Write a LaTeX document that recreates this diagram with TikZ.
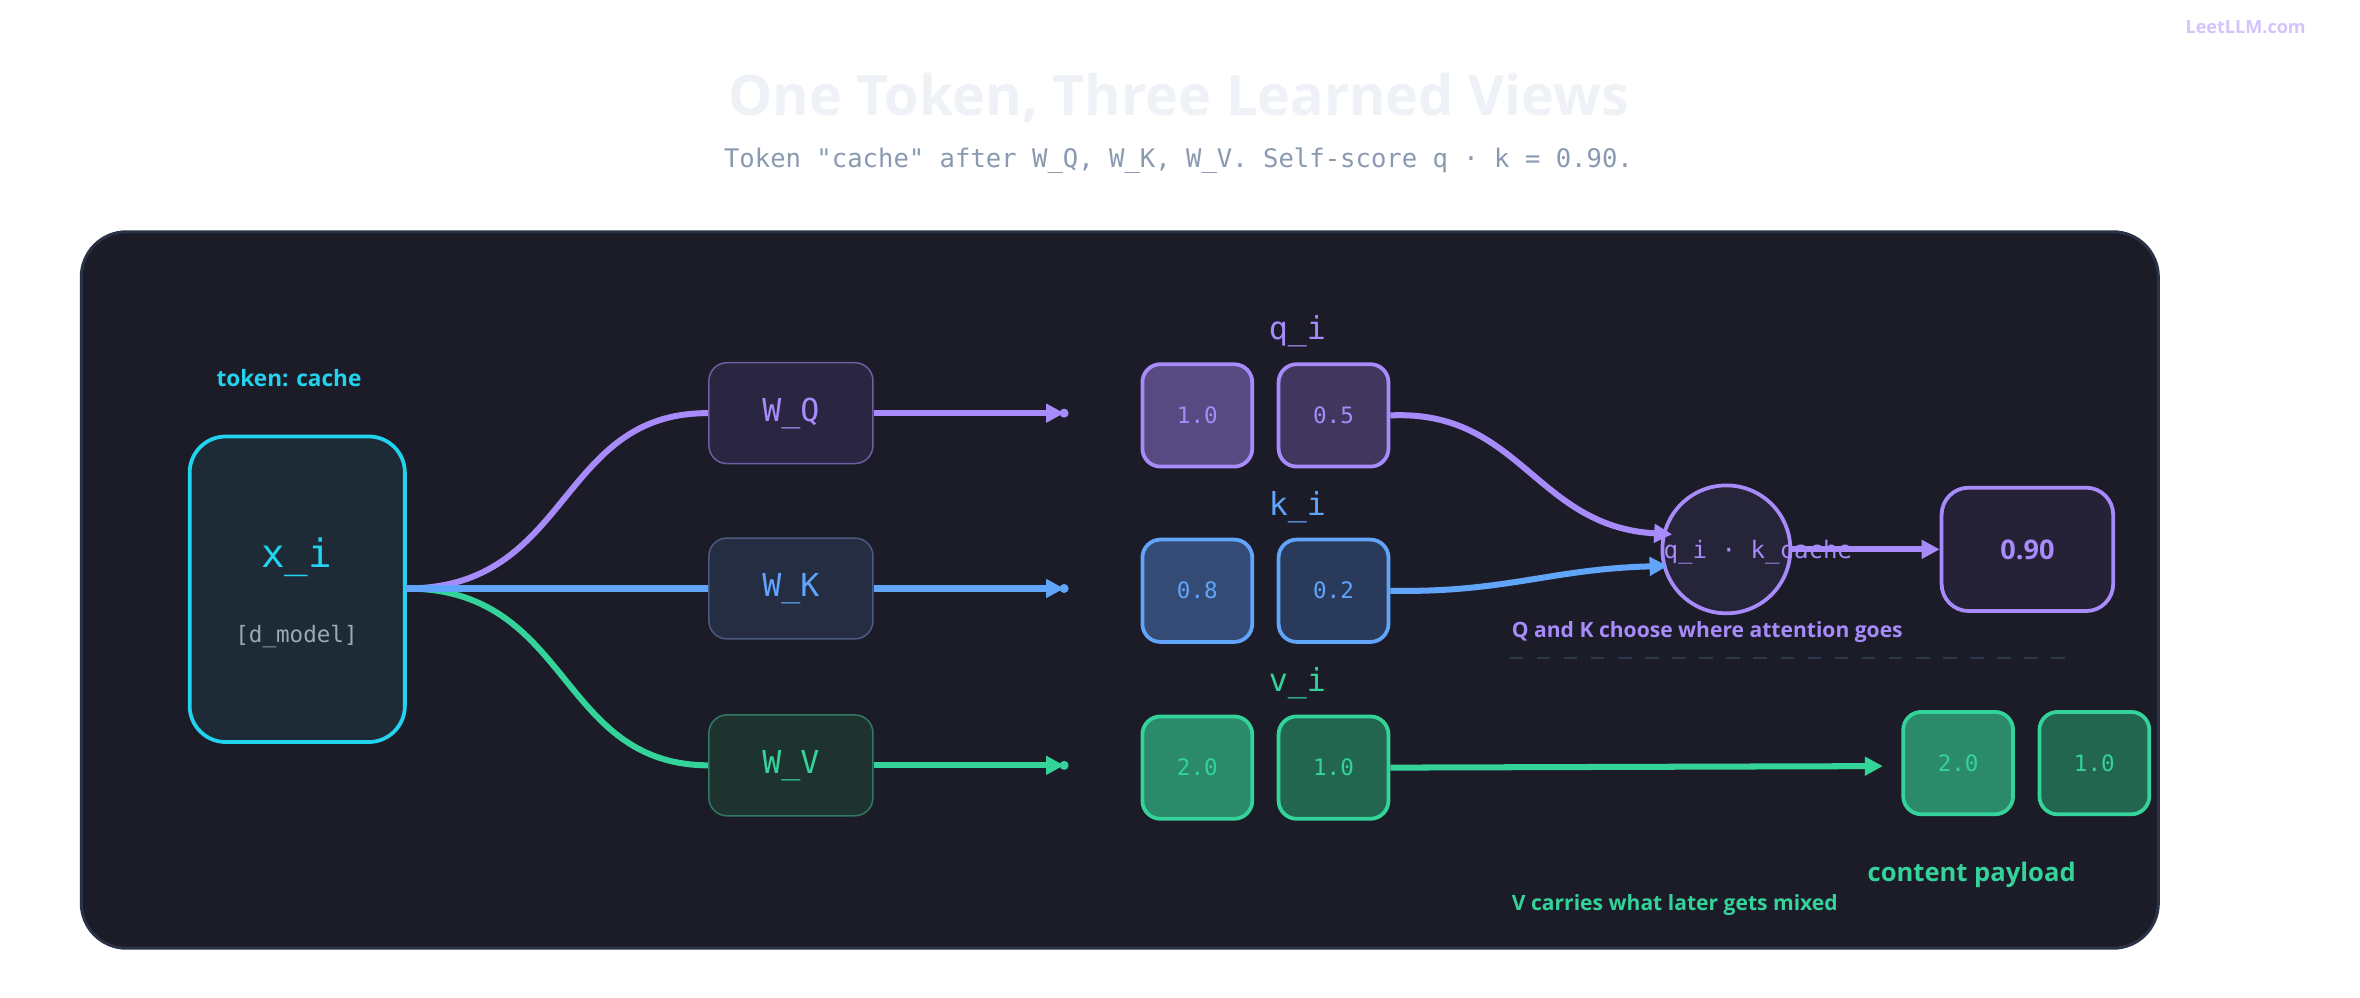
\documentclass[tikz,border=0pt]{standalone}
\usepackage{fontspec}
\setmainfont{Open Sans}
\setmonofont{DejaVu Sans Mono}
\usetikzlibrary{arrows.meta}
\definecolor{pur}{HTML}{A78BFA}
\definecolor{blu}{HTML}{60A5FA}
\definecolor{grn}{HTML}{34D399}
\definecolor{cyn}{HTML}{22D3EE}
\definecolor{panel}{HTML}{1C1C28}
\definecolor{panelb}{HTML}{2A3345}
\definecolor{ttl}{HTML}{EEF2F7}
\definecolor{subc}{HTML}{8A9AB0}
\definecolor{xfill}{HTML}{1E2A35}
\definecolor{xgrey}{HTML}{9AA8B8}
\definecolor{wqd}{HTML}{6B5FA0}\definecolor{wqf}{HTML}{2A2540}
\definecolor{wkd}{HTML}{4A5A80}\definecolor{wkf}{HTML}{252D42}
\definecolor{wvd}{HTML}{2E7A60}\definecolor{wvf}{HTML}{1E3330}
\definecolor{qa}{HTML}{574A82}\definecolor{qb}{HTML}{40365E}
\definecolor{ka}{HTML}{344C75}\definecolor{kb}{HTML}{2A3A5A}
\definecolor{va}{HTML}{2A8A6A}\definecolor{vb}{HTML}{226650}
\definecolor{dotf}{HTML}{262438}\definecolor{resf}{HTML}{252238}
\definecolor{dashc}{HTML}{2A3A4A}
\tikzset{
  pad/.style={rounded corners=12pt,line width=1pt,minimum width=109pt,minimum height=67pt,font=\ttfamily\fontsize{21}{21}\selectfont},
  vec/.style={rounded corners=12pt,line width=2.5pt,minimum width=73pt,minimum height=68pt,font=\ttfamily\fontsize{15}{15}\selectfont},
  wire/.style={line width=4pt,-{Triangle[length=12pt,width=12pt]}},
  lbl/.style={font=\ttfamily\fontsize{21}{21}\selectfont},
  note/.style={font=\bfseries\fontsize{14}{14}\selectfont,anchor=west},
}
\begin{document}
\begin{tikzpicture}[x=1pt,y=-1pt]
\useasboundingbox[fill=white] (0,0) rectangle (1568,663);
\node[font=\fontsize{12}{12}\selectfont\bfseries,text=pur!50] (wm) at (1492,18) {LeetLLM.com};
\node[font=\bfseries\fontsize{37}{37}\selectfont,text=ttl] (title) at (783,65) {One Token, Three Learned Views};
\node[font=\ttfamily\fontsize{17}{17}\selectfont,text=subc] (sub) at (783,107) {Token "cache" after W\_Q, W\_K, W\_V. Self-score q · k = 0.90.};
\draw[fill=panel,draw=panelb,line width=2pt,rounded corners=30pt] (54,154) rectangle (1434,630);

\node[font=\bfseries\fontsize{15}{15}\selectfont,text=cyn] (tok) at (192,251) {token: cache};
\node[draw=cyn,fill=xfill,line width=2.5pt,rounded corners=24pt,minimum width=143pt,minimum height=203pt] (x) at (197.5,391.5) {};
\node[font=\ttfamily\fontsize{26}{26}\selectfont,text=cyn] (xt) at (197,370) {x\_i};
\node[font=\ttfamily\fontsize{15}{15}\selectfont,text=xgrey] (xd) at (197,423) {[d\_model]};

\node[pad,draw=wqd,fill=wqf,text=pur] (wq) at (525.5,274.5) {W\_Q};
\node[pad,draw=wkd,fill=wkf,text=blu] (wk) at (525.5,391) {W\_K};
\node[pad,draw=wvd,fill=wvf,text=grn] (wv) at (525.5,508.5) {W\_V};

\coordinate (xo) at (270,391);
\draw[line width=4pt,pur] (xo) .. controls (380,391) and (370,274) .. (wq.west);
\draw[line width=4pt,grn] (xo) .. controls (380,391) and (370,508) .. (wv.west);
\draw[line width=4pt,blu] (xo) -- (wk.west);

\coordinate (eq) at (707,274.5);
\coordinate (ek) at (707,391);
\coordinate (ev) at (707,508.5);
\draw[wire,pur] (wq.east) -- (eq); \fill[pur] (eq) circle (3pt);
\draw[wire,blu] (wk.east) -- (ek); \fill[blu] (ek) circle (3pt);
\draw[wire,grn] (wv.east) -- (ev); \fill[grn] (ev) circle (3pt);

\node[lbl,text=pur] (ql) at (862,220) {q\_i};
\node[lbl,text=blu] (kl) at (862,337) {k\_i};
\node[lbl,text=grn] (vl) at (862,454) {v\_i};
\node[vec,draw=pur,fill=qa,text=pur] (q1) at (795.5,276) {1.0};
\node[vec,draw=pur,fill=qb,text=pur] (q2) at (886,276) {0.5};
\node[vec,draw=blu,fill=ka,text=blu] (k1) at (795.5,392.5) {0.8};
\node[vec,draw=blu,fill=kb,text=blu] (k2) at (886,392.5) {0.2};
\node[vec,draw=grn,fill=va,text=grn] (v1) at (795.5,510) {2.0};
\node[vec,draw=grn,fill=vb,text=grn] (v2) at (886,510) {1.0};

\node[circle,draw=pur,fill=dotf,line width=2.5pt,minimum size=85pt] (dot) at (1147,365) {};
\draw[wire,pur] (q2.east) .. controls (1010,272) and (1020,350) .. (1111,355);
\draw[wire,blu] (k2.east) .. controls (1000,394) and (1030,378) .. (1108,376);
\node[font=\ttfamily\fontsize{16}{16}\selectfont,text=pur] (dt) at (1168,367) {q\_i · k\_cache};
\node[draw=pur,fill=resf,line width=2.5pt,rounded corners=18pt,minimum width=114pt,minimum height=82pt,font=\bfseries\fontsize{18}{18}\selectfont,text=pur] (res) at (1347,365) {0.90};
\draw[wire,pur] (dot.east) -- (res.west);
\node[note,text=pur] (qn) at (1001,420) {Q and K choose where attention goes};
\coordinate (d1) at (1003,437); \coordinate (d2) at (1380,437);
\draw[dashc,line width=1.5pt,dash pattern=on 9pt off 9pt] (d1) -- (d2);

\node[vec,draw=grn,fill=va,text=grn] (o1) at (1301,507) {2.0};
\node[vec,draw=grn,fill=vb,text=grn] (o2) at (1391.5,507) {1.0};
\coordinate (ve) at (1251,509);
\draw[wire,grn] (v2.east) -- (ve);
\node[font=\bfseries\fontsize{17}{17}\selectfont,text=grn] (cp) at (1310,581) {content payload};
\node[note,text=grn] (vn) at (1001,601) {V carries what later gets mixed};
\end{tikzpicture}
\end{document}
